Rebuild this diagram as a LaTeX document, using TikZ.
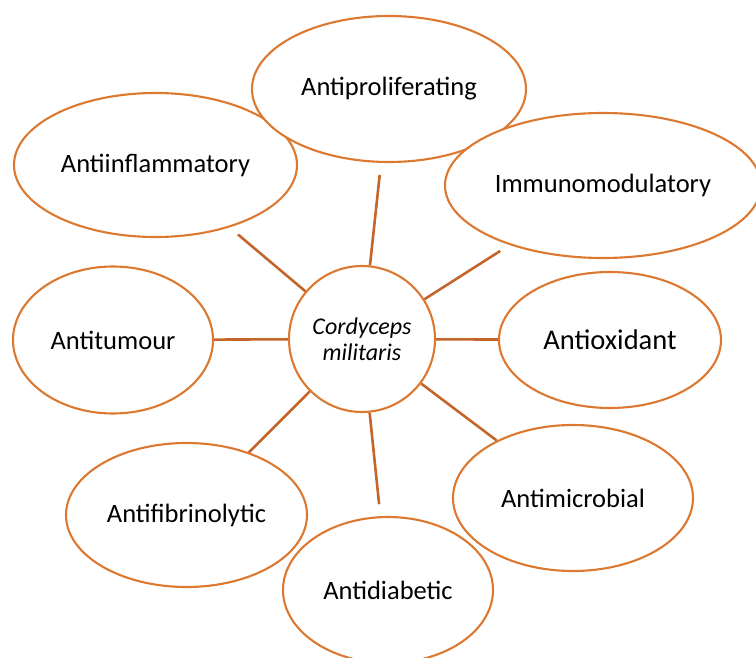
\documentclass[tikz,border=0pt]{standalone}
\usepackage{fontspec}
\setmainfont{Carlito}
\usetikzlibrary{shapes.geometric}
\definecolor{ringOrange}{HTML}{DC7830}
\definecolor{spokeBrown}{HTML}{C4662C}

\begin{document}
\begin{tikzpicture}[x=1pt,y=-1pt,
  effect/.style={ellipse,draw=ringOrange,fill=white,line width=2.1pt,inner sep=0pt,font=\fontsize{26.5}{30}\selectfont},
  core/.style={circle,draw=ringOrange,fill=white,line width=2.1pt,inner sep=0pt,minimum size=146pt,align=center,font=\fontsize{24}{26}\selectfont\itshape},
  spoke/.style={spokeBrown,line width=2.6pt}
]
  \useasboundingbox (0,0) rectangle (756,658);

  % --- effects, top row (later ones overlap earlier ones) ---
  \node[effect,minimum width=283pt,minimum height=144pt] (AIF) at (155.5,165) {Antiinflammatory};
  \node[effect,minimum width=274pt,minimum height=146pt] (APR) at (389,89)    {Antiproliferating};
  \node[effect,minimum width=316pt,minimum height=145pt] (IMM) at (603,185.5) {Immunomodulatory};

  % --- middle row with the fungus in the centre ---
  \node[effect,minimum width=200pt,minimum height=147pt] (ATU) at (113,340) {Antitumour};
  \node[core] (CM) at (362,339) {Cordyceps\\militaris};
  \node[effect,minimum width=222pt,minimum height=136pt,font=\fontsize{28.5}{32}\selectfont] (AOX) at (610,340) {Antioxidant};

  % --- bottom row ---
  \node[effect,minimum width=241pt,minimum height=144pt] (AFB) at (186.5,515) {Antifibrinolytic};
  \node[effect,minimum width=240pt,minimum height=146pt] (AMI) at (573,498)   {Antimicrobial};
  \node[effect,minimum width=210pt,minimum height=146pt] (ADB) at (388,590)   {Antidiabetic};

  % --- spokes from the centre ---
  \draw[spoke,shorten >=12pt] (CM) -- (APR);
  \draw[spoke,shorten >=11pt] (CM) -- (AIF);
  \draw[spoke,shorten >=11pt] (CM) -- (IMM);
  \draw[spoke] (CM) -- (ATU);
  \draw[spoke] (CM) -- (AOX);
  \draw[spoke] (CM) -- (AFB);
  \draw[spoke] (CM) -- (AMI);
  \draw[spoke,shorten >=12pt] (CM) -- (ADB);
\end{tikzpicture}
\end{document}
